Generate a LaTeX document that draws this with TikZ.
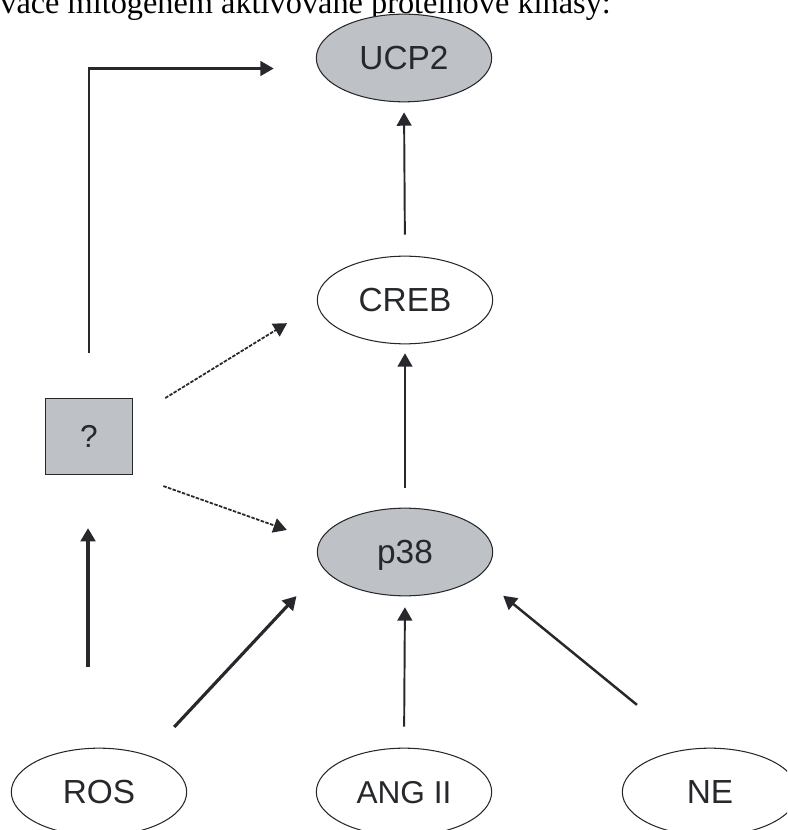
\documentclass[tikz,border=0pt]{standalone}
\usepackage{fontspec}
\setmainfont{Liberation Serif}
\newfontfamily\arialfont{Liberation Sans}
\usetikzlibrary{arrows.meta,shapes.geometric}

\definecolor{boxgray}{RGB}{190,193,198}
\definecolor{inkgray}{RGB}{38,40,44}

\tikzset{
  blob/.style={ellipse,draw=inkgray,line width=0.6pt,minimum width=99.8pt,minimum height=49.9pt,
    inner sep=0pt,text=inkgray,font=\arialfont\fontsize{19}{19}\selectfont,text height=13.6pt,text depth=0pt},
  grayblob/.style={blob,fill=boxgray},
  qbox/.style={rectangle,draw=inkgray,fill=boxgray,line width=0.6pt,minimum width=49.9pt,minimum height=43.7pt,
    inner sep=0pt,text=inkgray,font=\arialfont\fontsize{18}{18}\selectfont},
  arr/.style={draw=inkgray,line width=1.1pt,-{Triangle[length=7.6pt,width=8.4pt]}},
  thickarr/.style={arr,line width=1.8pt},
  dasharr/.style={arr,line width=1pt,dash pattern=on 2pt off 0.8pt}
}

\begin{document}
\begin{tikzpicture}[x=0.02cm,y=-0.02cm]
    \clip (0,0) rectangle (787,830);
    % cut-off line of the text above the figure
    \node[anchor=base west,inner sep=0pt,font=\fontsize{18.4}{18.4}\selectfont] (caption) at (0,14)
        {vace mitogenem aktivované proteinové kinasy:};
    % nodes
    \node[grayblob] (ucp) at (404,58) {UCP2};
    \node[blob] (creb) at (405,300) {CREB};
    \node[grayblob] (p38) at (405,552) {p38};
    \node[qbox] (q) at (89,436.5) {?};
    \node[blob] (ros) at (99,792) {ROS};
    \node[blob,font=\arialfont\fontsize{18}{18}\selectfont,text height=12.9pt] (ang) at (404,792) {ANG II};
    \node[blob] (ne) at (710,792) {NE};
    % connectors
    \draw[arr,shorten <=11.9pt,shorten >=5.7pt] (creb.north) -- (ucp.south);
    \draw[arr,shorten <=11.3pt,shorten >=5.1pt] (p38.north) -- (creb.south);
    \draw[arr,shorten <=11.9pt,shorten >=6.2pt] (ang.north) -- (p38.south);
    \draw[thickarr,shorten <=21.9pt,shorten >=21.9pt] (ros.37) -- (p38.191);
    \draw[thickarr,line width=1.4pt,shorten <=39.5pt,shorten >=17.7pt] (ne.114) -- (p38.342);
    \draw[thickarr,shorten <=45.9pt,shorten >=30pt] (ros.104) -- (ros.104 |- q.south);
    \draw[arr,line width=1.3pt,shorten <=25.5pt,shorten >=25.4pt] (q.north) |- (ucp.187);
    \draw[dasharr,shorten <=21.3pt,shorten >=20.2pt] (q.23) -- (creb.183);
    \draw[dasharr,shorten <=18.1pt,shorten >=19.6pt] (q.south east) -- (p38.173);
\end{tikzpicture}
\end{document}
